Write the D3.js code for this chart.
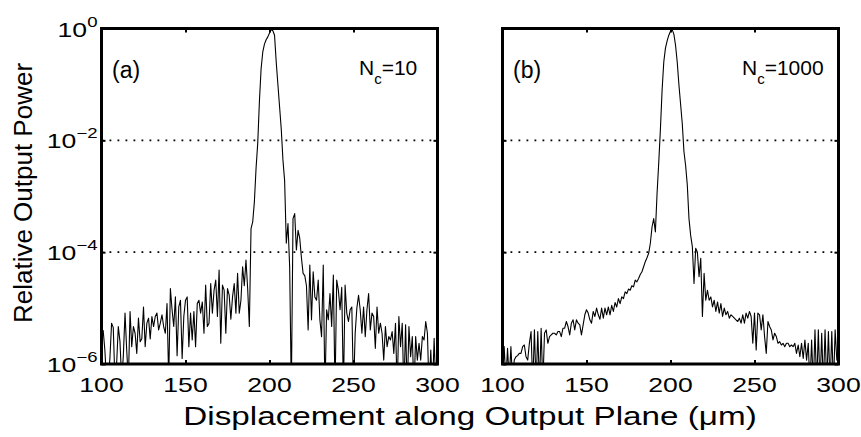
<!DOCTYPE html>
<html>
<head>
<meta charset="utf-8">
<script src="https://cdn.jsdelivr.net/npm/d3@7/dist/d3.min.js"></script>
<style>
  html, body { margin: 0; padding: 0; background: #fff; }
  svg { display: block; }
  text { font-family: "Liberation Sans", Arial, Helvetica, sans-serif; fill: #000; }
</style>
</head>
<body>
<svg id="chart" width="861" height="437"></svg>
<script>
// ---------------- data ----------------
const xTicks = [100, 150, 200, 250, 300];
const yTicks = [1e0, 1e-2, 1e-4, 1e-6];
const yTickExponents = ["0", "\u22122", "\u22124", "\u22126"];
const panelLabels = ["(a)", "(b)"];
const coreCounts = ["10", "1000"];
const xStart = 100;   // first sample (µm), samples every 1 µm

// log10 of relative output power, panel (a) N_c = 10, x = 100..300 µm
const log10PowerA = [
  -5.39,-5.40,-5.75,-6.30,-6.30,-5.90,-5.27,-5.35,-6.30,-6.00,
  -5.33,-5.60,-6.30,-5.85,-5.09,-5.75,-6.30,-5.06,-5.69,-5.33,
  -5.45,-5.81,-5.18,-5.60,-5.55,-4.98,-5.69,-5.27,-5.18,-5.55,
  -5.15,-5.33,-5.15,-5.09,-5.39,-5.27,-5.12,-5.33,-5.45,-4.92,
  -6.30,-4.65,-5.03,-5.33,-4.80,-5.85,-4.98,-4.86,-5.90,-5.15,
  -4.86,-4.80,-5.69,-5.09,-5.57,-5.06,-5.69,-4.92,-4.86,-5.09,
  -4.89,-5.45,-4.59,-5.33,-5.27,-4.56,-5.09,-4.68,-4.50,-5.15,
  -4.32,-5.63,-4.59,-4.68,-5.45,-4.65,-4.77,-5.20,-4.80,-4.56,
  -5.09,-4.38,-5.09,-4.86,-4.26,-4.60,-4.14,-4.65,-5.33,-3.58,
  -3.46,-3.10,-2.50,-2.05,-1.30,-0.72,-0.42,-0.28,-0.20,-0.15,
  -0.08,-0.02,-0.04,-0.12,-0.60,-1.00,-1.40,-1.80,-2.35,-2.72,
  -3.84,-3.49,-4.26,-6.50,-3.40,-3.31,-3.96,-3.61,-3.75,-4.10,
  -4.38,-4.42,-4.60,-5.39,-4.23,-5.21,-4.35,-4.80,-4.86,-4.50,
  -5.21,-5.51,-4.23,-6.50,-5.03,-5.21,-4.74,-5.33,-4.41,-6.50,
  -4.50,-4.68,-5.03,-4.63,-6.50,-4.59,-5.09,-5.24,-5.03,-4.98,
  -6.50,-5.45,-5.00,-4.77,-5.03,-5.45,-4.98,-5.51,-5.03,-4.74,
  -5.39,-5.09,-5.15,-5.72,-4.98,-5.45,-5.27,-5.45,-5.93,-5.33,
  -5.69,-5.51,-5.57,-5.42,-5.81,-5.27,-6.50,-5.15,-5.69,-5.27,
  -6.50,-5.30,-6.50,-5.33,-5.87,-5.51,-6.50,-5.51,-5.93,-5.63,
  -5.93,-5.51,-5.57,-5.24,-5.45,-6.50,-5.75,-6.50,-5.54,-6.50,
  -5.50
];

// log10 of relative output power, panel (b) N_c = 1000, x = 100..300 µm
const log10PowerB = [
  -6.30,-5.69,-6.30,-5.72,-6.30,-5.69,-6.30,-5.93,-5.87,-5.85,
  -5.81,-5.81,-5.69,-5.66,-5.87,-5.93,-5.63,-5.42,-6.40,-5.39,
  -6.40,-5.42,-6.40,-5.36,-6.40,-5.45,-5.39,-5.63,-5.51,-5.48,
  -5.45,-5.45,-5.48,-5.42,-5.42,-5.51,-5.36,-5.36,-5.24,-5.33,
  -5.48,-5.27,-5.21,-5.39,-5.21,-5.27,-5.30,-5.48,-5.30,-5.12,
  -5.03,-5.09,-5.21,-5.27,-5.06,-5.15,-5.00,-5.12,-5.20,-5.00,
  -5.18,-5.00,-5.12,-4.98,-5.12,-4.95,-5.06,-4.90,-4.98,-4.83,
  -4.92,-4.80,-4.83,-4.71,-4.74,-4.66,-4.68,-4.60,-4.62,-4.50,
  -4.53,-4.47,-4.40,-4.35,-4.26,-4.17,-4.10,-4.02,-3.84,-3.55,
  -3.40,-3.64,-2.95,-2.40,-1.80,-1.10,-0.60,-0.35,-0.22,-0.12,
  -0.05,-0.02,-0.10,-0.30,-0.60,-1.00,-1.35,-1.70,-2.20,-2.45,
  -2.80,-3.40,-3.70,-3.90,-4.56,-3.93,-4.00,-4.44,-4.11,-5.15,
  -4.38,-4.86,-4.68,-4.86,-4.80,-4.98,-4.86,-5.06,-4.89,-5.09,
  -4.92,-5.15,-5.00,-5.12,-5.06,-5.18,-5.12,-5.15,-5.18,-5.21,
  -5.24,-5.18,-5.27,-5.12,-5.27,-5.09,-5.18,-5.06,-5.15,-5.63,
  -5.09,-5.75,-5.09,-5.12,-5.39,-5.12,-5.51,-5.81,-5.24,-5.33,
  -5.39,-5.57,-5.45,-5.51,-5.63,-5.60,-5.66,-5.63,-5.69,-5.63,
  -5.63,-5.69,-5.66,-5.69,-5.63,-5.81,-5.66,-5.87,-5.63,-5.90,
  -5.57,-5.93,-5.63,-6.40,-5.57,-6.40,-5.39,-6.40,-5.39,-6.40,
  -5.45,-6.40,-5.39,-6.40,-5.42,-6.40,-5.42,-6.40,-5.39,-5.93,
  -5.90
];

// ---------------- layout ----------------
const svg = d3.select("#chart");
const plotTop = 28.5, plotBottom = 364;
const panels = [
  { x0: 101.5, x1: 437.5, data: log10PowerA, label: panelLabels[0], nc: coreCounts[0], yLabels: true,
    labelX: 112, ncX: 359 },
  { x0: 502.5, x1: 838.5, data: log10PowerB, label: panelLabels[1], nc: coreCounts[1], yLabels: false,
    labelX: 513, ncX: 742 }
];
const SX = 1.33; // horizontal glyph stretch seen in the reference tick labels / x title

const y = d3.scaleLog().domain([1e-6, 1]).range([plotBottom, plotTop]);

panels.forEach((p, pi) => {
  const x = d3.scaleLinear().domain([100, 300]).range([p.x0, p.x1]);
  const g = svg.append("g");

  const clipId = "clip" + pi;
  svg.append("clipPath").attr("id", clipId)
    .append("rect").attr("x", p.x0).attr("y", plotTop).attr("width", p.x1 - p.x0).attr("height", plotBottom - plotTop);

  // dotted grid lines at inner decades
  g.selectAll("line.grid").data([1e-2, 1e-4]).enter().append("line")
    .attr("x1", p.x0).attr("x2", p.x1)
    .attr("y1", d => y(d)).attr("y2", d => y(d))
    .attr("stroke", "#000").attr("stroke-width", 1.8)
    .attr("stroke-dasharray", "1.8,6.2");

  // trace
  const pts = p.data.map((v, i) => [xStart + i, Math.pow(10, v)]);
  const line = d3.line().x(d => x(d[0])).y(d => y(d[1]));
  g.append("path").datum(pts)
    .attr("clip-path", `url(#${clipId})`)
    .attr("d", line)
    .attr("fill", "none").attr("stroke", "#000").attr("stroke-width", 1.1)
    .attr("stroke-linejoin", "round");

  // axes (ticks inward, no labels here)
  const bAx = d3.axisBottom(x).tickValues(xTicks).tickSize(-4).tickFormat("");
  const tAx = d3.axisTop(x).tickValues(xTicks).tickSize(-4).tickFormat("");
  const lAx = d3.axisLeft(y).tickValues(yTicks).tickSize(-4).tickFormat("");
  const rAx = d3.axisRight(y).tickValues(yTicks).tickSize(-4).tickFormat("");
  [[bAx, `translate(0,${plotBottom})`], [tAx, `translate(0,${plotTop})`],
   [lAx, `translate(${p.x0},0)`], [rAx, `translate(${p.x1},0)`]].forEach(([ax, tr]) => {
    const a = g.append("g").attr("transform", tr).call(ax);
    a.select(".domain").remove();
    a.selectAll("line").attr("stroke", "#000").attr("stroke-width", 2);
  });

  // frame
  g.append("rect").attr("x", p.x0).attr("y", plotTop)
    .attr("width", p.x1 - p.x0).attr("height", plotBottom - plotTop)
    .attr("fill", "none").attr("stroke", "#000").attr("stroke-width", 3);

  // x tick labels
  g.selectAll("text.xt").data(xTicks).enter().append("text")
    .attr("transform", d => `translate(${x(d)},${plotBottom + 28}) scale(${SX},1)`)
    .attr("text-anchor", "middle").attr("font-size", 20).text(d => d);

  // y tick labels
  if (p.yLabels) {
    yTicks.forEach((t, i) => {
      const tx = g.append("text")
        .attr("transform", `translate(${p.x0 - 4},${y(t) + 8}) scale(${SX},1)`)
        .attr("text-anchor", "end").attr("font-size", 20);
      tx.append("tspan").text("10");
      tx.append("tspan").attr("dy", -10).attr("font-size", 14).text(yTickExponents[i]);
    });
  }

  // panel label and N_c
  g.append("text").attr("transform", `translate(${p.labelX},${plotTop + 49})`)
    .attr("font-size", 23).text(p.label);
  const nt = g.append("text").attr("transform", `translate(${p.ncX},${plotTop + 46})`)
    .attr("font-size", 21);
  nt.append("tspan").text("N");
  nt.append("tspan").attr("dy", 9).attr("font-size", 15).text("c");
  nt.append("tspan").attr("dy", -9).text("=" + p.nc);
});

// axis titles
svg.append("text")
  .attr("transform", `translate(470,425) scale(${SX},1)`)
  .attr("text-anchor", "middle").attr("font-size", 25)
  .text("Displacement along Output Plane (\u03bcm)");
svg.append("text")
  .attr("transform", `translate(32,193) rotate(-90)`)
  .attr("text-anchor", "middle").attr("font-size", 26)
  .text("Relative Output Power");
</script>
</body>
</html>
